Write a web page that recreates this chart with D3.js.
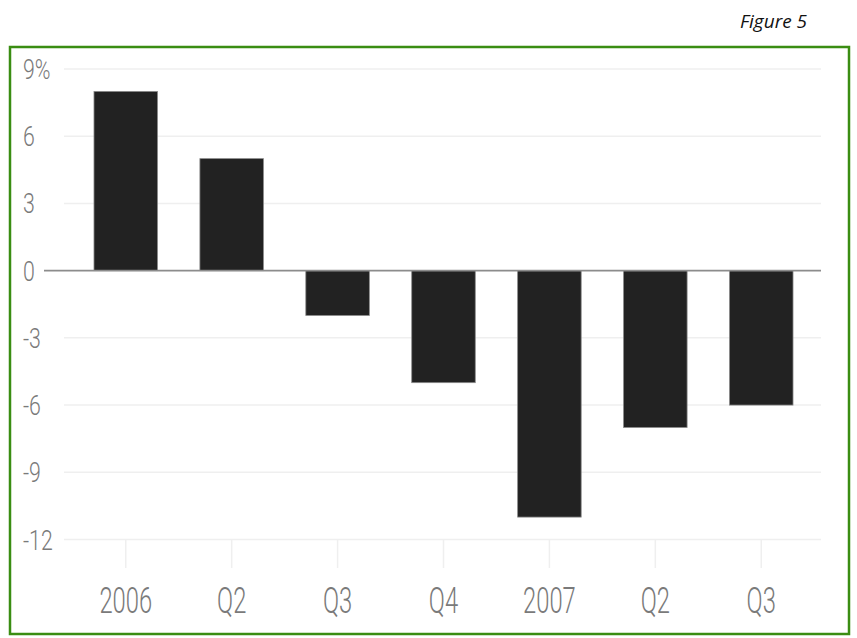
<!doctype html>
<html>
<head>
<meta charset="utf-8">
<title>Figure 5</title>
<script src="https://cdn.jsdelivr.net/npm/d3@7"></script>
<style>
  body { margin: 0; background: #fff; }
  svg { display: block; }
</style>
</head>
<body>
<script>
var width = 857;
var height = 638;

// quarterly change, percent
var periods = ["2006", "Q2", "Q3", "Q4", "2007", "Q2 ", "Q3 "];
var labels = ["2006", "Q2", "Q3", "Q4", "2007", "Q2", "Q3"];
var values = [8, 5, -2, -5, -11, -7, -6];
var yTicks = [9, 6, 3, 0, -3, -6, -9, -12];

var svg = d3.select("body").append("svg")
  .attr("width", width)
  .attr("height", height);

// frame
svg.append("rect")
  .attr("x", 10).attr("y", 47)
  .attr("width", 839).attr("height", 587)
  .attr("fill", "none")
  .attr("stroke", "#3a8d12")
  .attr("stroke-width", 2.5);

svg.append("text")
  .attr("x", 807).attr("y", 28)
  .attr("text-anchor", "end")
  .style("font-family", "'Open Sans', sans-serif")
  .style("font-style", "italic")
  .style("font-size", "19px")
  .attr("fill", "#111")
  .text("Figure 5");

var x = d3.scaleBand()
  .domain(periods)
  .range([72.8, 814.2])
  .paddingInner(0.4)
  .paddingOuter(0.2);

var y = d3.scaleLinear()
  .domain([-12, 9])
  .range([539.5, 69]);

// gridlines
svg.append("g").selectAll("line")
  .data(yTicks.filter(function(d) { return d !== 0; }))
  .enter().append("line")
  .attr("x1", 64).attr("x2", 821)
  .attr("y1", function(d) { return y(d); })
  .attr("y2", function(d) { return y(d); })
  .attr("stroke", "#efefef")
  .attr("stroke-width", 1.5);

// x tick marks
svg.append("g").selectAll("line")
  .data(periods)
  .enter().append("line")
  .attr("x1", function(d) { return x(d) + x.bandwidth() / 2; })
  .attr("x2", function(d) { return x(d) + x.bandwidth() / 2; })
  .attr("y1", y(-12))
  .attr("y2", 568)
  .attr("stroke", "#efefef")
  .attr("stroke-width", 1.5);

// bars
svg.append("g").selectAll("rect")
  .data(values)
  .enter().append("rect")
  .attr("x", function(d, i) { return x(periods[i]); })
  .attr("width", x.bandwidth())
  .attr("y", function(d) { return y(Math.max(0, d)); })
  .attr("height", function(d) { return Math.abs(y(d) - y(0)); })
  .attr("fill", "#222")
  .attr("stroke", "#8a8a8a")
  .attr("stroke-width", 0.8);

// zero line
svg.append("line")
  .attr("x1", 44).attr("x2", 821)
  .attr("y1", y(0)).attr("y2", y(0))
  .attr("stroke", "#8c8c8c")
  .attr("stroke-width", 1.6);

// y labels
svg.append("g").selectAll("text")
  .data(yTicks)
  .enter().append("text")
  .attr("transform", function(d) { return "translate(23," + (y(d) + 10) + ") scale(0.76,1)"; })
  .style("font-family", "Roboto, sans-serif")
  .style("font-weight", 300)
  .style("font-size", "28px")
  .attr("fill", "#7a7a7a")
  .text(function(d) { return d === 9 ? "9%" : d; });

// x labels
svg.append("g").selectAll("text")
  .data(periods)
  .enter().append("text")
  .attr("transform", function(d) { return "translate(" + (x(d) + x.bandwidth() / 2) + ",613) scale(0.66,1)"; })
  .attr("text-anchor", "middle")
  .style("font-family", "Roboto, sans-serif")
  .style("font-weight", 300)
  .style("font-size", "36px")
  .attr("fill", "#7a7a7a")
  .text(function(d, i) { return labels[i]; });
</script>
</body>
</html>
